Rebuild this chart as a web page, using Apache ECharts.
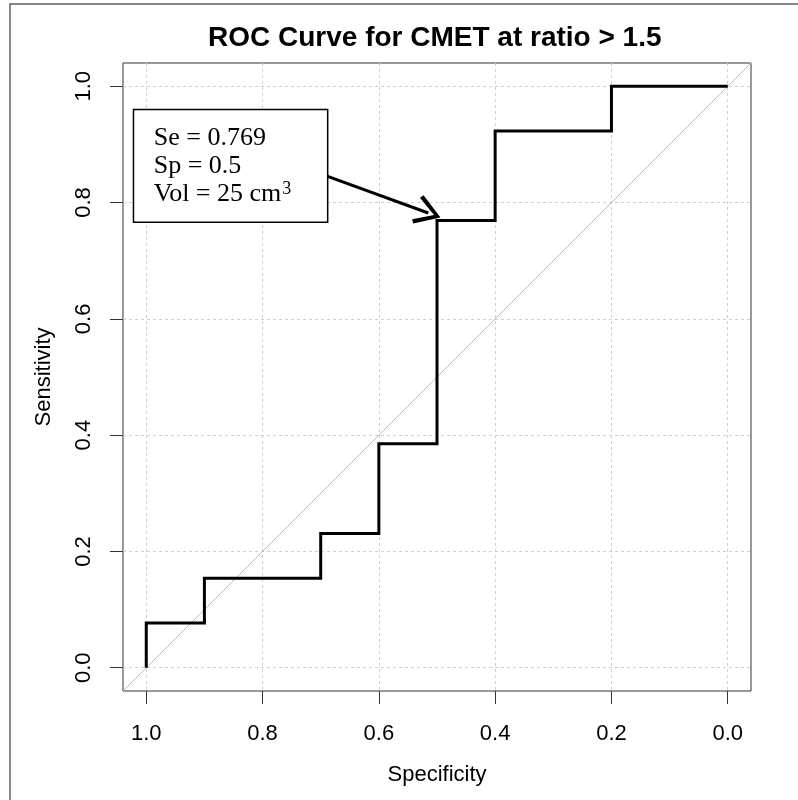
<!DOCTYPE html>
<html>
<head>
<meta charset="utf-8">
<script src="https://cdn.jsdelivr.net/npm/echarts@6/dist/echarts.min.js"></script>
<style>
  html, body { margin: 0; padding: 0; background: #fff; }
  #roc-chart { width: 798px; height: 800px; }
</style>
</head>
<body>
<div id="roc-chart"></div>
<script>
// ROC points (staircase)
var specificity = [1.0, 1.0, 0.9, 0.9, 0.7, 0.7, 0.6, 0.6, 0.5, 0.5, 0.4, 0.4, 0.2, 0.2, 0.0];
var sensitivity = [0.0, 0.077, 0.077, 0.154, 0.154, 0.231, 0.231, 0.385, 0.385, 0.769, 0.769, 0.923, 0.923, 1.0, 1.0];
var tickValues = [0, 0.2, 0.4, 0.6, 0.8, 1.0];
// chance line, corner to corner of the plot region
var chanceSpec = [1.04, -0.04];
var chanceSens = [-0.04, 1.04];
// annotation box + arrow (data coords)
var boxCorners = [[1.022, 0.960], [0.688, 0.766]];
var arrowFrom = [0.688, 0.845];
var arrowTo = [0.515, 0.782];
var noteLines = ['Se = 0.769', 'Sp = 0.5', 'Vol = 25 cm'];

var rocchart = echarts.init(document.getElementById('roc-chart'), null, {renderer: 'canvas'});

function zip(a, b) {
    var out = [];
    for (var i = 0; i < a.length; i++) out.push([a[i], b[i]]);
    return out;
}

var sansFont = '"Liberation Sans", Arial, sans-serif';
var serifFont = '"Liberation Serif", "Times New Roman", serif';
var gridLine = {show: true, lineStyle: {color: '#d0d0d0', type: [3, 3], width: 1}};

var rocoption = {
    animation: false,
    backgroundColor: '#fff',
    title: {
        text: 'ROC Curve for CMET at ratio > 1.5',
        left: 203,
        top: 19,
        textStyle: {fontFamily: sansFont, fontWeight: 'bold', fontSize: 28, color: '#000'}
    },
    graphic: [{
        type: 'rect',
        silent: true,
        shape: {x: 10, y: 4, width: 900, height: 900},
        style: {fill: 'none', stroke: '#606060', lineWidth: 1.5}
    }],
    grid: {
        left: 123,
        right: 47,
        top: 63,
        bottom: 109,
        show: true,
        borderColor: '#333',
        borderWidth: 1,
        backgroundColor: 'transparent'
    },
    xAxis: {
        type: 'value',
        inverse: true,
        min: -0.04,
        max: 1.04,
        name: 'Specificity',
        nameLocation: 'middle',
        nameGap: 73,
        nameTextStyle: {fontFamily: sansFont, fontSize: 22, color: '#000'},
        axisLine: {show: false, onZero: false},
        axisTick: {show: true, length: 13, customValues: tickValues, lineStyle: {color: '#333'}},
        axisLabel: {
            customValues: tickValues,
            margin: 32,
            fontFamily: sansFont, fontSize: 22, color: '#000',
            formatter: function (v) { return v.toFixed(1); }
        },
        splitLine: gridLine
    },
    yAxis: {
        type: 'value',
        min: -0.04,
        max: 1.04,
        name: 'Sensitivity',
        nameLocation: 'middle',
        nameRotate: 90,
        nameGap: 68,
        nameTextStyle: {fontFamily: sansFont, fontSize: 22, color: '#000'},
        axisLine: {show: false, onZero: false},
        axisTick: {show: true, length: 13, customValues: tickValues, lineStyle: {color: '#333'}},
        axisLabel: {
            customValues: tickValues,
            rotate: 90,
            margin: 28,
            fontFamily: sansFont, fontSize: 22, color: '#000',
            formatter: function (v) { return v.toFixed(1); }
        },
        splitLine: gridLine
    },
    series: [
        {
            name: 'chance',
            type: 'line',
            silent: true,
            symbol: 'none',
            data: zip(chanceSpec, chanceSens),
            lineStyle: {color: '#bdbdbd', width: 1},
            z: 2,
            markArea: {
                silent: true,
                itemStyle: {color: '#fff', borderColor: '#000', borderWidth: 1.5, opacity: 1},
                label: {
                    show: true,
                    position: 'insideLeft',
                    distance: 21,
                    formatter: '{a|' + noteLines[0] + '}\n{a|' + noteLines[1] + '}\n{a|' + noteLines[2] + '}{s|3}',
                    rich: {
                        a: {fontFamily: serifFont, fontSize: 26, lineHeight: 28, color: '#000'},
                        s: {fontFamily: serifFont, fontSize: 18, lineHeight: 18, verticalAlign: 'top', color: '#000', padding: [0, 0, 0, 1]}
                    }
                },
                data: [[{coord: boxCorners[0]}, {coord: boxCorners[1]}]]
            },
            markLine: {
                silent: true,
                symbol: ['none', 'path://M11,0 L22,17 L19.4,18.8 L11,5 L2.6,18.8 L0,17 Z'],
                symbolSize: [30, 26],
                lineStyle: {color: '#000', width: 3, type: 'solid'},
                label: {show: false},
                data: [[{coord: arrowFrom}, {coord: arrowTo}]]
            }
        },
        {
            name: 'ROC',
            type: 'line',
            silent: true,
            symbol: 'none',
            data: zip(specificity, sensitivity),
            lineStyle: {color: '#000', width: 3, join: 'miter'},
            z: 5
        }
    ]
};
rocchart.setOption(rocoption);
</script>
</body>
</html>
